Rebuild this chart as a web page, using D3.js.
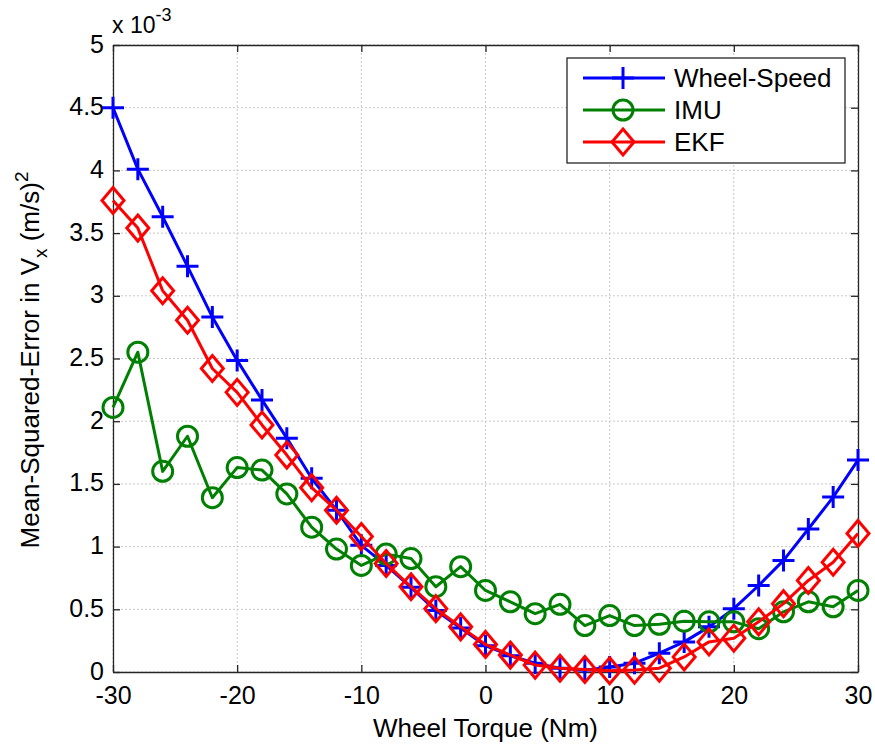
<!DOCTYPE html>
<html>
<head>
<meta charset="utf-8">
<script src="https://cdn.jsdelivr.net/npm/d3@7"></script>
<style>
body { margin: 0; background: #fff; }
svg { font-family: "Liberation Sans", Arial, sans-serif; }
</style>
</head>
<body>
<svg id="chart" width="875" height="747"></svg>
<script>
// torque values (Nm)
var torque = d3.range(-30, 31, 2);

// MSE values, units of 1e-3 (m/s)^2
var wheelSpeed = [4.5, 4.01, 3.63, 3.235, 2.83, 2.485, 2.17, 1.865, 1.545, 1.29, 1.01, 0.85, 0.675, 0.49, 0.35, 0.21,
  0.13, 0.07, 0.03, 0.015, 0.04, 0.07, 0.15, 0.24, 0.36, 0.505, 0.69, 0.89, 1.14, 1.395, 1.69];
var imu = [2.11, 2.55, 1.6, 1.88, 1.39, 1.63, 1.61, 1.42, 1.155, 0.98, 0.85, 0.94, 0.905, 0.68, 0.84, 0.65,
  0.56, 0.465, 0.54, 0.37, 0.45, 0.37, 0.38, 0.405, 0.4, 0.4, 0.345, 0.48, 0.56, 0.52, 0.65];
var ekf = [3.76, 3.54, 3.04, 2.805, 2.42, 2.23, 1.97, 1.73, 1.47, 1.29, 1.08, 0.865, 0.68, 0.505, 0.36, 0.22,
  0.135, 0.055, 0.03, 0.02, 0.01, 0.015, 0.03, 0.12, 0.24, 0.27, 0.4, 0.545, 0.73, 0.875, 1.105];

var xTicks = [-30, -20, -10, 0, 10, 20, 30];
var yTicks = [0, 0.5, 1, 1.5, 2, 2.5, 3, 3.5, 4, 4.5, 5];

var seriesNames = ["Wheel-Speed", "IMU", "EKF"];
var seriesColors = ["#0000ff", "#008000", "#ff0000"];
var seriesMarkers = ["plus", "circle", "diamond"];

var pLeft = 113, pRight = 858, pTop = 45, pBottom = 672;
var svg = d3.select("#chart");

var x = d3.scaleLinear().domain([-30, 30]).range([pLeft, pRight]);
var y = d3.scaleLinear().domain([0, 5]).range([pBottom, pTop]);

// grid
var grid = svg.append("g");
grid.selectAll(".gx").data(xTicks).enter().append("line")
  .attr("x1", d => x(d)).attr("x2", d => x(d)).attr("y1", pTop).attr("y2", pBottom)
  .attr("stroke", "#c8c8c8").attr("stroke-dasharray", "2,2");
grid.selectAll(".gy").data(yTicks).enter().append("line")
  .attr("y1", d => y(d)).attr("y2", d => y(d)).attr("x1", pLeft).attr("x2", pRight)
  .attr("stroke", "#c8c8c8").attr("stroke-dasharray", "2,2");

// axes (ticks point inward)
var fs = 25;
var fmt = d => String(d);
var xAxis = svg.append("g").attr("transform", "translate(0," + pBottom + ")")
  .call(d3.axisBottom(x).tickValues(xTicks).tickSizeInner(-7).tickSizeOuter(0).tickPadding(14).tickFormat(fmt));
var yAxis = svg.append("g").attr("transform", "translate(" + pLeft + ",0)")
  .call(d3.axisLeft(y).tickValues(yTicks).tickSizeInner(-7).tickSizeOuter(0).tickPadding(9).tickFormat(fmt));
var xTop = svg.append("g").attr("transform", "translate(0," + pTop + ")")
  .call(d3.axisTop(x).tickValues(xTicks).tickSizeInner(-7).tickSizeOuter(0).tickFormat(""));
var yRight = svg.append("g").attr("transform", "translate(" + pRight + ",0)")
  .call(d3.axisRight(y).tickValues(yTicks).tickSizeInner(-7).tickSizeOuter(0).tickFormat(""));
[xAxis, yAxis, xTop, yRight].forEach(function(a) {
  a.select(".domain").attr("stroke", "#262626").attr("stroke-width", 1.3);
  a.selectAll(".tick line").attr("stroke", "#262626").attr("stroke-width", 1.3);
  a.selectAll("text").attr("font-size", fs).attr("fill", "#000").style("font-family", "Liberation Sans, Arial, sans-serif");
});
yAxis.selectAll("text").attr("dy", "0.28em");

// exponent label
var expo = svg.append("text").attr("x", 112).attr("y", 33).attr("font-size", 23).attr("fill", "#000");
expo.append("tspan").text("x 10");
expo.append("tspan").attr("dy", -12).attr("font-size", 18).text("-3");

// axis titles
svg.append("text").attr("x", (pLeft + pRight) / 2).attr("y", 737).attr("text-anchor", "middle")
  .attr("font-size", 26).text("Wheel Torque (Nm)");
var yl = svg.append("text").attr("transform", "translate(39,360) rotate(-90)")
  .attr("text-anchor", "middle").attr("font-size", 26);
yl.append("tspan").text("Mean-Squared-Error in V");
yl.append("tspan").attr("dy", 8).attr("font-size", 19).text("x");
yl.append("tspan").attr("dy", -8).text(" (m/s)");
yl.append("tspan").attr("dy", -11).attr("font-size", 19).text("2");

function drawMarker(g, type, color) {
  if (type === "plus") {
    g.append("path").attr("d", "M-11,0H11M0,-11V11").attr("stroke", color).attr("stroke-width", 3).attr("fill", "none");
  } else if (type === "circle") {
    g.append("circle").attr("r", 10).attr("stroke", color).attr("stroke-width", 3).attr("fill", "none");
  } else {
    g.append("path").attr("d", "M0,-13L11,0L0,13L-11,0Z").attr("stroke", color).attr("stroke-width", 3).attr("fill", "none");
  }
}

var line = d3.line().x((d, i) => x(torque[i])).y(d => y(d));
[wheelSpeed, imu, ekf].forEach(function(vals, k) {
  var g = svg.append("g");
  g.append("path").datum(vals).attr("d", line).attr("fill", "none")
    .attr("stroke", seriesColors[k]).attr("stroke-width", 3).attr("stroke-linejoin", "round");
  vals.forEach(function(v, i) {
    var m = g.append("g").attr("transform", "translate(" + x(torque[i]) + "," + y(v) + ")");
    drawMarker(m, seriesMarkers[k], seriesColors[k]);
  });
});

// legend
var lg = svg.append("g");
lg.append("rect").attr("x", 567).attr("y", 58).attr("width", 278).attr("height", 105)
  .attr("fill", "#fff").attr("stroke", "#262626").attr("stroke-width", 1.3);
seriesNames.forEach(function(name, k) {
  var yy = 78 + k * 32;
  lg.append("line").attr("x1", 583).attr("x2", 665).attr("y1", yy).attr("y2", yy)
    .attr("stroke", seriesColors[k]).attr("stroke-width", 3);
  var m = lg.append("g").attr("transform", "translate(623," + yy + ")");
  drawMarker(m, seriesMarkers[k], seriesColors[k]);
  lg.append("text").attr("x", 674).attr("y", yy).attr("dy", "0.36em").attr("font-size", 26).text(name);
});
</script>
</body>
</html>
